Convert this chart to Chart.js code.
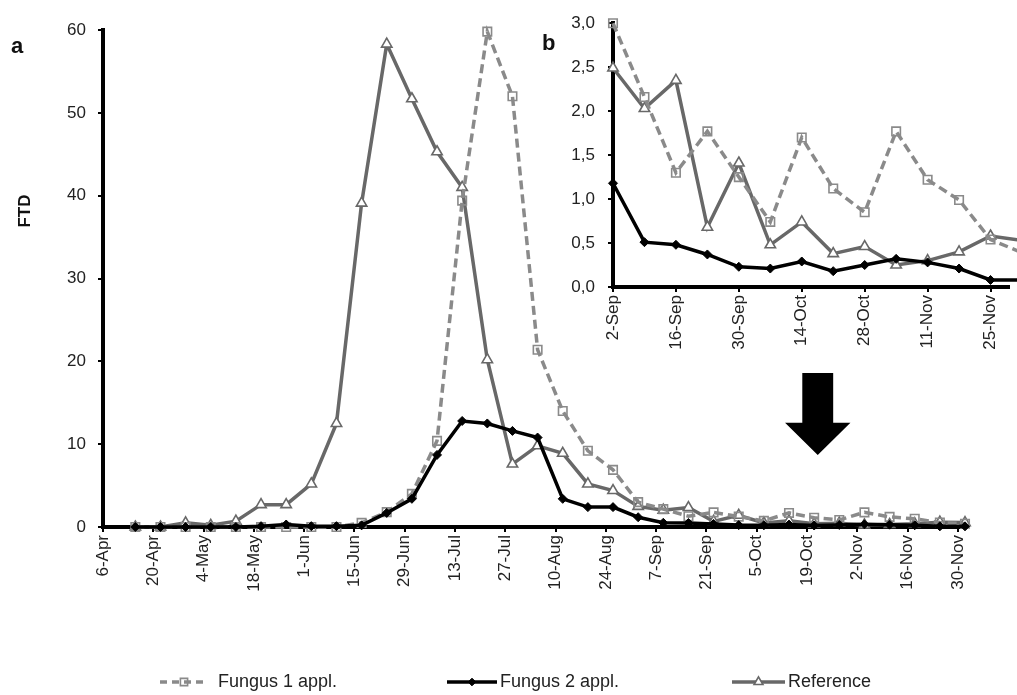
<!DOCTYPE html>
<html>
<head>
<meta charset="utf-8">
<script src="https://cdn.jsdelivr.net/npm/chart.js@4.4.1/dist/chart.umd.min.js"></script>
<style>
html,body{margin:0;padding:0;background:#fff;overflow:hidden;}
#wrap{position:relative;width:1017px;height:695px;overflow:hidden;}
#main{position:absolute;left:0;top:0;}
#inset{position:absolute;left:520px;top:0;}
</style>
</head>
<body>
<div id="wrap">
<canvas id="main" width="1017" height="695"></canvas>
<canvas id="inset" width="497" height="360"></canvas>
</div>
<script>
// ---------------- DATA ----------------
const sampleDates = ['15-Apr','22-Apr','29-Apr','6-May','13-May','20-May','27-May','3-Jun','10-Jun','17-Jun',
  '24-Jun','1-Jul','8-Jul','15-Jul','22-Jul','29-Jul','5-Aug','12-Aug','19-Aug','26-Aug',
  '2-Sep','9-Sep','16-Sep','23-Sep','30-Sep','7-Oct','14-Oct','21-Oct','28-Oct','4-Nov',
  '11-Nov','18-Nov','25-Nov','2-Dec'];

const fungus1 = [0,0,0,0,0,0,0,0,0,0.5,
  1.8,4.0,10.4,39.4,59.8,52.0,21.4,14.0,9.2,6.9,
  3.0,2.16,1.30,1.77,1.25,0.74,1.70,1.12,0.85,1.77,
  1.22,0.99,0.54,0.39];

const fungus2 = [0,0,0,0,0,0.1,0.3,0.1,0.1,0.2,
  1.7,3.4,8.7,12.8,12.5,11.6,10.8,3.4,2.4,2.4,
  1.18,0.51,0.48,0.37,0.23,0.21,0.29,0.18,0.25,0.32,
  0.28,0.21,0.08,0.08];

const reference = [0,0,0.5,0.2,0.7,2.7,2.7,5.2,12.5,39.1,
  58.3,51.7,45.3,41.0,20.2,7.6,9.8,8.9,5.2,4.4,
  2.49,2.03,2.35,0.68,1.41,0.48,0.74,0.38,0.46,0.25,
  0.30,0.40,0.58,0.53];

const seriesNames = ['Fungus 1 appl.','Fungus 2 appl.','Reference'];

const mainTickLabels = ['6-Apr','20-Apr','4-May','18-May','1-Jun','15-Jun','29-Jun','13-Jul','27-Jul',
  '10-Aug','24-Aug','7-Sep','21-Sep','5-Oct','19-Oct','2-Nov','16-Nov','30-Nov'];
const insetTickLabels = ['2-Sep','16-Sep','30-Sep','14-Oct','28-Oct','11-Nov','25-Nov'];
const insetStartIndex = 20; // inset shows the series from 2-Sep on

// ---------------- HELPERS ----------------
const MONTHS = ['Jan','Feb','Mar','Apr','May','Jun','Jul','Aug','Sep','Oct','Nov','Dec'];
function dayOf(s){
  const p = s.split('-');
  return Math.round((Date.UTC(2001, MONTHS.indexOf(p[1]), +p[0]) - Date.UTC(2001, 3, 6)) / 864e5);
}
const sampleDays = sampleDates.map(dayOf);
const mainTickDays = mainTickLabels.map(dayOf);
const insetTickDays = insetTickLabels.map(dayOf);

Chart.defaults.font.family = "'Liberation Sans', Arial, sans-serif";
Chart.defaults.color = '#222';

const C_F1 = '#8a8a8a', C_F2 = '#000000', C_REF = '#686868';

function makeDatasets(startIdx, scale){
  const pts = arr => arr.slice(startIdx).map((v,i)=>({x: sampleDays[startIdx+i], y: v}));
  return [
    {label: seriesNames[0], data: pts(fungus1), borderColor: C_F1, borderWidth: 3.5*scale, borderDash:[9,5],
     pointStyle:'rect', pointRadius:6, pointBackgroundColor:'rgba(255,255,255,0)', pointBorderColor:C_F1,
     pointBorderWidth:1.6, order:1, clip:false, tension:0},
    {label: seriesNames[1], data: pts(fungus2), borderColor: C_F2, borderWidth: 3.5*scale,
     pointStyle:'rectRot', pointRadius:4.5, pointBackgroundColor:'#000', pointBorderColor:'#000',
     pointBorderWidth:1, order:0, clip:false, tension:0},
    {label: seriesNames[2], data: pts(reference), borderColor: C_REF, borderWidth: 3.5*scale,
     pointStyle:'triangle', pointRadius:6, pointBackgroundColor:'#fff', pointBorderColor:C_REF,
     pointBorderWidth:1.6, order:2, clip:false, tension:0}
  ];
}

// annotation arrow (in data units of the main chart)
const arrowAnnotation = {day:199, top:18.6, neck:12.6, tip:8.7, shaftHalfDays:4.3, headHalfDays:9.1};

// legend layout (pixels)
const legendItems = [
  {ds:0, x0:160, x1:208, tx:218},
  {ds:1, x0:447, x1:497, tx:500},
  {ds:2, x0:732, x1:785, tx:788}
];
const legendY = 682;

const mainDecor = {
  id:'mainDecor',
  afterDatasetsDraw(chart){
    const ctx = chart.ctx, xs = chart.scales.x, ys = chart.scales.y;
    const a = arrowAnnotation;
    const cx = xs.getPixelForValue(a.day);
    const sw = xs.getPixelForValue(a.day + a.shaftHalfDays) - cx;
    const hw = xs.getPixelForValue(a.day + a.headHalfDays) - cx;
    const yt = ys.getPixelForValue(a.top), yn = ys.getPixelForValue(a.neck), yp = ys.getPixelForValue(a.tip);
    ctx.save();
    ctx.fillStyle = '#000';
    ctx.beginPath();
    ctx.moveTo(cx - sw, yt); ctx.lineTo(cx + sw, yt); ctx.lineTo(cx + sw, yn);
    ctx.lineTo(cx + hw, yn); ctx.lineTo(cx, yp); ctx.lineTo(cx - hw, yn); ctx.lineTo(cx - sw, yn);
    ctx.closePath(); ctx.fill();
    ctx.restore();
  },
  afterDraw(chart){
    const ctx = chart.ctx;
    ctx.save();
    // panel letter
    ctx.fillStyle = '#111';
    ctx.font = "bold 22px 'Liberation Sans', Arial, sans-serif";
    ctx.textBaseline = 'alphabetic';
    ctx.fillText('a', 11, 53);
    // y title
    ctx.save();
    ctx.translate(25, 211);
    ctx.rotate(-Math.PI/2);
    ctx.font = "bold 17px 'Liberation Sans', Arial, sans-serif";
    ctx.textAlign = 'center'; ctx.textBaseline = 'middle';
    ctx.fillText('FTD', 0, 0);
    ctx.restore();
    // legend
    legendItems.forEach(it=>{
      const ds = chart.data.datasets[it.ds];
      ctx.save();
      ctx.strokeStyle = ds.borderColor; ctx.lineWidth = ds.borderWidth;
      ctx.setLineDash(ds.borderDash ? [7,5] : []);
      ctx.beginPath(); ctx.moveTo(it.x0, legendY); ctx.lineTo(it.x1, legendY); ctx.stroke();
      ctx.setLineDash([]);
      ctx.fillStyle = ds.pointBackgroundColor; ctx.strokeStyle = ds.pointBorderColor;
      ctx.lineWidth = ds.pointBorderWidth;
      Chart.helpers.drawPoint(ctx, {pointStyle: ds.pointStyle, radius: ds.pointRadius*0.85,
        borderWidth: ds.pointBorderWidth, rotation:0}, (it.x0+it.x1)/2, legendY);
      ctx.fillStyle = '#222';
      ctx.font = "18px 'Liberation Sans', Arial, sans-serif";
      ctx.textAlign = 'left'; ctx.textBaseline = 'middle';
      ctx.fillText(ds.label, it.tx, legendY);
      ctx.restore();
    });
    ctx.restore();
  }
};

const insetDecor = {
  id:'insetDecor',
  afterDraw(chart){
    const ctx = chart.ctx;
    ctx.save();
    ctx.fillStyle = '#111';
    ctx.font = "bold 22px 'Liberation Sans', Arial, sans-serif";
    ctx.fillText('b', 22, 50);
    ctx.restore();
  }
};

const axisGrid = {drawOnChartArea:false, drawTicks:true, tickLength:5, color:'#000', lineWidth:2};
const axisBorder = {display:true, color:'#000', width:4};

// ---------------- MAIN CHART ----------------
new Chart(document.getElementById('main'), {
  type:'line',
  data:{datasets: makeDatasets(0, 1)},
  options:{
    responsive:false, animation:false,
    layout:{padding:{top:30, right:52, left:0, bottom:0}},
    plugins:{legend:{display:false}, tooltip:{enabled:false}},
    scales:{
      x:{type:'linear', min:0, max:240,
        afterBuildTicks: s => { s.ticks = mainTickDays.map(v=>({value:v})); },
        afterFit: s => { s.height = 168; },
        ticks:{autoSkip:false, maxRotation:90, minRotation:90, padding:3, color:'#222',
          font:{size:17}, callback:(v,i)=> mainTickLabels[i]},
        grid: axisGrid, border: axisBorder},
      y:{min:0, max:60,
        afterFit: s => { s.width = 103; },
        ticks:{stepSize:10, padding:12, color:'#222', font:{size:17}},
        grid: axisGrid, border: axisBorder}
    }
  },
  plugins:[mainDecor]
});

// ---------------- INSET CHART ----------------
new Chart(document.getElementById('inset'), {
  type:'line',
  data:{datasets: makeDatasets(insetStartIndex, 1)},
  options:{
    responsive:false, animation:false,
    layout:{padding:{top:23, right:0, left:0, bottom:0}},
    plugins:{legend:{display:false}, tooltip:{enabled:false}},
    scales:{
      x:{type:'linear', min:149, max:237.2,
        afterBuildTicks: s => { s.ticks = insetTickDays.map(v=>({value:v})); },
        afterFit: s => { s.height = 73; },
        ticks:{autoSkip:false, maxRotation:90, minRotation:90, padding:3, color:'#222',
          font:{size:17}, callback:(v,i)=> insetTickLabels[i]},
        grid: axisGrid, border: axisBorder},
      y:{min:0, max:3,
        afterFit: s => { s.width = 93; },
        ticks:{stepSize:0.5, padding:13, color:'#222', font:{size:17},
          callback: v => Number(v).toFixed(1).replace('.', ',')},
        grid: axisGrid, border: axisBorder}
    }
  },
  plugins:[insetDecor]
});
</script>
</body>
</html>
